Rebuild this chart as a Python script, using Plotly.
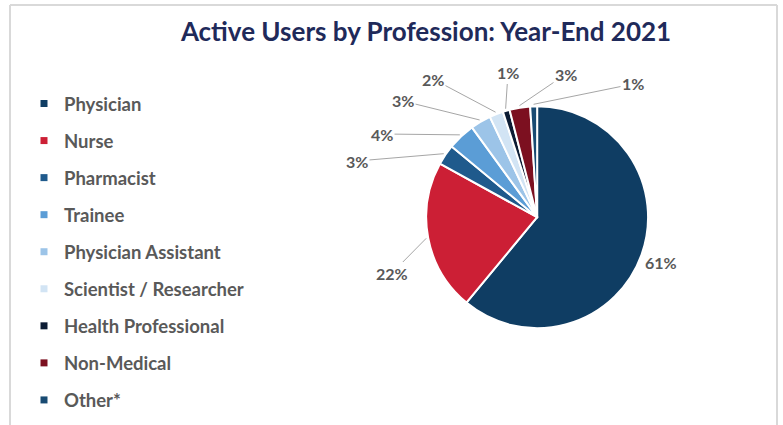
import math
import plotly.graph_objects as go

W, H = 783, 425

categories = ["Physician", "Nurse", "Pharmacist", "Trainee", "Physician Assistant",
              "Scientist / Researcher", "Health Professional", "Non-Medical", "Other*"]
shares = [61, 22, 3, 4, 3, 2, 1, 3, 1]
colors = ["#0f3d63", "#cc1f35", "#1f5a8c", "#5b9dd6", "#9cc4e8",
          "#d2e4f4", "#0c1c34", "#7c1020", "#184a72"]

# label text centres in pixels (style / layout only)
label_px = [(679, 262), (392, 273), (357, 161), (382, 134), (403, 101),
            (433, 79), (508, 73), (566, 74), (633, 84)]
show_leader = [False, True, True, True, True, True, True, True, True]

dom_x = [0.544, 0.828]
dom_y = [0.228, 0.750]

fig = go.Figure()

fig.add_trace(go.Pie(
    labels=categories, values=shares, sort=False, direction="clockwise", rotation=0,
    marker=dict(colors=colors, line=dict(color="white", width=2)),
    textinfo="none", hoverinfo="label+percent", showlegend=False,
    domain=dict(x=dom_x, y=dom_y),
))

# legend via marker-only traces
for i, (c, col) in enumerate(zip(categories, colors)):
    fig.add_trace(go.Scatter(
        x=[None], y=[None], mode="markers", name=c, legendgroup=f"g{i}",
        marker=dict(symbol="square", size=7, color=col),
    ))

# percentage annotations positioned from data angles
cx = (dom_x[0] + dom_x[1]) / 2 * W
cy = (1 - (dom_y[0] + dom_y[1]) / 2) * H
R = min((dom_x[1] - dom_x[0]) * W, (dom_y[1] - dom_y[0]) * H) / 2
total = sum(shares)
cum = 0
for v, (lx, ly), lead in zip(shares, label_px, show_leader):
    mid = (cum + v / 2) / total
    cum += v
    th = 2 * math.pi * mid
    tx = cx + (R + 2) * math.sin(th)
    ty = cy - (R + 2) * math.cos(th)
    txt = f"{round(100 * v / total)}%"
    font = dict(family="Lato", size=16, color="#595959", weight="bold")
    if lead:
        fig.add_annotation(
            x=tx / W, y=1 - ty / H, xref="paper", yref="paper",
            ax=lx - tx, ay=ly - ty, axref="pixel", ayref="pixel",
            text=txt, showarrow=True, arrowhead=0, arrowwidth=1,
            arrowcolor="#a6a6a6", font=font, standoff=0, startstandoff=0,
        )
    else:
        fig.add_annotation(x=lx / W, y=1 - ly / H, xref="paper", yref="paper",
                           text=txt, showarrow=False, font=font)

# frame lines
frame = dict(color="#d9d9d9", width=2)
fig.add_shape(type="line", xref="paper", yref="paper", x0=10 / W, x1=10 / W, y0=0, y1=1 - 5 / H, line=frame)
fig.add_shape(type="line", xref="paper", yref="paper", x0=10 / W, x1=777 / W, y0=1 - 5 / H, y1=1 - 5 / H, line=frame)
fig.add_shape(type="line", xref="paper", yref="paper", x0=777 / W, x1=777 / W, y0=0, y1=1 - 5 / H, line=frame)

fig.update_layout(
    width=W, height=H, margin=dict(l=0, r=0, t=0, b=0, autoexpand=False),
    paper_bgcolor="white", plot_bgcolor="white",
    title=dict(text="<b>Active Users by Profession: Year-End 2021</b>", x=426 / W, xanchor="center",
               y=1 - 32 / H, yanchor="middle",
               font=dict(family="Lato", size=26, color="#1f2a5a")),
    xaxis=dict(visible=False), yaxis=dict(visible=False),
    legend=dict(x=24 / W, y=1 - 85 / H, xanchor="left", yanchor="top",
                font=dict(family="Lato", size=18.5, color="#595959", weight="bold"),
                tracegroupgap=10, itemwidth=30, bgcolor="rgba(0,0,0,0)"),
)

fig.write_html("out.html")
